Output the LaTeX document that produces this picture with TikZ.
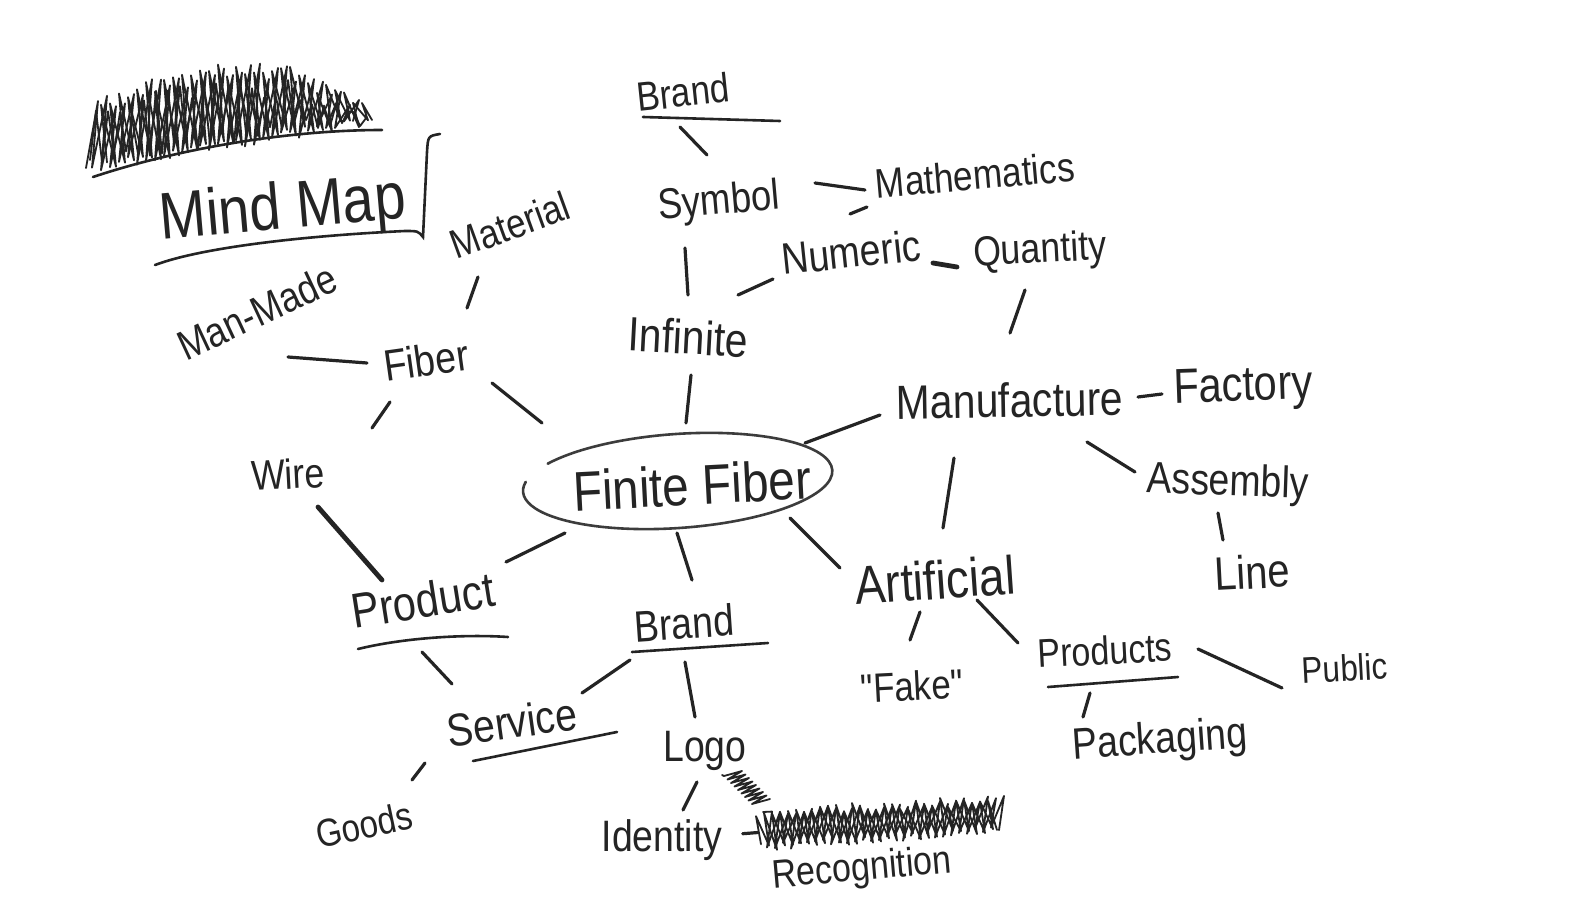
\documentclass[tikz,border=0pt]{standalone}
\usepackage{fontspec}
\setmainfont{Liberation Sans}[FakeStretch=0.85]
\newfontfamily\quotefont{Liberation Sans}[FakeStretch=0.85]
\usetikzlibrary{calc}
\definecolor{ink}{HTML}{242424}
\definecolor{inkgray}{HTML}{3C3C3C}
\definecolor{board}{HTML}{FFFFFF}

\tikzset{
  word/.style={font=\fontsize{#1}{#1}\selectfont, text=ink, inner sep=1pt},
  word/.default=22,
  link/.style={draw=ink, line width=1.6pt, line cap=round},
  heavy/.style={link, line width=2.4pt},
  underline/.style={draw=ink, line width=1.3pt, line cap=round},
  ring/.style={draw=inkgray, line width=1.3pt, line cap=round},
  scrawl/.style={draw=ink, line width=0.9pt, line join=round, line cap=round},
}

\begin{document}
\begin{tikzpicture}[x=0.5pt, y=-0.5pt,
  declare function={
    ttop(\x)=(\x<260)*(72+40*((\x-260)/175)^2)+(\x>=260)*(72+46*((\x-260)/112)^2);
    tbot(\x)=168-0.167*(\x-88);
    ktop(\x)=812-(\x-763)*12/234;
    kbot(\x)=847-(\x-763)*17/234;
  }]
\pgfmathsetseed{42}
\fill[board] (0,0) rectangle (1585,920);
\useasboundingbox (0,0) rectangle (1585,920);

% crossed-out title and the title box
\draw[scrawl] (86,168)
  \foreach \i in {0,...,29}{
    -- ({98+9*\i}, {ttop(98+9*\i)+9*rand})
    -- ({92+9*\i}, {tbot(92+9*\i)+5*rand})
  };
\draw[scrawl] (372,120)
  \foreach \i in {0,...,29}{
    -- ({362-9*\i}, {ttop(362-9*\i)+10*rand})
    -- ({368-9*\i}, {tbot(368-9*\i)+5*rand})
  };
\draw[scrawl] (90,160)
  \foreach \i in {0,...,22}{
    -- ({96+12*\i}, {ttop(96+12*\i)+14+12*rand})
    -- ({102+12*\i}, {tbot(102+12*\i)-6+6*rand})
  };
\draw[underline] (93,177) .. controls (180,148) and (290,130) .. (382,130);

\node[word=33, rotate=5] (mind) at (283,212) {Mind Map};
\draw[underline] (440,134) .. controls (428,136) .. (427,152) -- (423,237)
  .. controls (418,231) .. (405,231) .. controls (300,236) and (200,248) .. (155,265);

% words
\node[word=28, rotate=3] (finite) at (692,485) {Finite Fiber};
\draw[ring, rotate around={4:(finite)}] ($(finite)+(-14,-5)$) ++(214:155 and 47)
  arc[start angle=214, end angle=552, x radius=155, y radius=47];

\node[word=21, rotate=25] (manmade) at (257,312) {Man-Made};
\node[word=20.5, rotate=20] (material) at (510,225) {Material};
\node[word=22, rotate=8] (fiber) at (426,360) {Fiber};
\node[word=21, rotate=3] (wire) at (288,474) {Wire};
\node[word=24.5, rotate=9] (product) at (423,600) {Product};
\node[word=23, rotate=8] (service) at (512,722) {Service};
\node[word=19.5, rotate=12] (goods) at (364,825) {Goods};
\node[word=22, rotate=4] (brandlow) at (684,623) {Brand};
\node[word=22] (logo) at (705,751) {Logo};
\node[word=22] (identity) at (662,840) {Identity};
\coordinate (struck) at (880,823);
\node[word=20, rotate=5] (recognition) at (862,870) {Recognition};
\node[word=21.5, rotate=5] (symbol) at (719,203) {Symbol};
\node[word=20.5, rotate=6] (brandtop) at (683,92) {Brand};
\node[word=20.7, rotate=5] (maths) at (975,175) {Mathematics};
\node[word=22, rotate=6] (numeric) at (851,252) {Numeric};
\node[word=21, rotate=3] (quantity) at (1040,252) {Quantity};
\node[word=24, rotate=-3] (infinite) at (688,337) {Infinite};
\node[word=24, rotate=1] (manuf) at (1010,400) {Manufacture};
\node[word=24.5, rotate=2] (factory) at (1243,389) {Factory};
\node[word=22, rotate=-2] (assembly) at (1228,484) {Assembly};
\node[word=23.5, rotate=3] (assyline) at (1252,572) {Line};
\node[word=27, rotate=4] (artificial) at (935,580) {Artificial};
\node[word=20.5, rotate=3] (fake) at (912,686) {\quotefont "Fake"};
\node[word=20, rotate=3] (products) at (1105,650) {Products};
\node[word=18.5, rotate=3] (public) at (1345,668) {Public};
\node[word=22, rotate=4] (packaging) at (1160,742) {Packaging};

% underlined words
\draw[underline] ($(brandtop)+(-40,25)$) -- ($(brandtop)+(97,29)$);
\draw[underline] ($(product)+(-65,49)$) .. controls ($(product)+(-20,38)$) and ($(product)+(40,34)$) .. ($(product)+(85,37)$);
\draw[underline] ($(service)+(-39,39)$) -- ($(service)+(105,10)$);
\draw[underline] ($(brandlow)+(-52,29)$) -- ($(brandlow)+(84,20)$);
\draw[underline] ($(products)+(-57,37)$) -- ($(products)+(73,27)$);

% connectors
\draw[link] ($(material)+(-32,52)$) -- ($(fiber)+(41,-52)$);
\draw[link] ($(fiber)+(-59,3)$) -- ($(manmade)+(31,45)$);
\draw[link] ($(fiber)+(-36,42)$) -- ($(wire)+(84,-46)$);
\draw[link] ($(fiber)+(66,23)$) -- ($(finite)+(-150,-62)$);
\draw[heavy] ($(wire)+(30,33)$) -- ($(product)+(-41,-20)$);
\draw[link] ($(finite)+(-127,48)$) -- ($(product)+(83,-38)$);
\draw[link] ($(product)+(-1,52)$) -- ($(service)+(-60,-38)$);
\draw[link] ($(service)+(70,-29)$) -- ($(brandlow)+(-54,37)$);
\draw[link] ($(service)+(-87,41)$) -- ($(goods)+(48,-45)$);
\draw[link] ($(finite)+(-15,48)$) -- ($(brandlow)+(8,-43)$);
\draw[link] ($(brandlow)+(1,39)$) -- ($(logo)+(-10,-34)$);
\draw[link] ($(logo)+(-8,31)$) -- ($(identity)+(21,-30)$);
\draw[link] ($(identity)!0.37!(struck)$) -- ($(identity)!0.44!(struck)$);
\draw[link] ($(finite)+(-6,-62)$) -- ($(infinite)+(3,38)$);
\draw[link] ($(infinite)+(0,-42)$) -- ($(symbol)+(-34,45)$);
\draw[link] ($(symbol)+(-12,-48)$) -- ($(brandtop)+(-3,35)$);
\draw[link] ($(symbol)+(96,-20)$) -- ($(maths)+(-110,15)$);
\draw[link] ($(infinite)+(50,-42)$) -- ($(numeric)+(-78,27)$);
\draw[link] ($(numeric)+(-1,-38)$) -- ($(maths)+(-108,32)$);
\draw[heavy] ($(numeric)+(82,11)$) -- ($(quantity)+(-83,15)$);
\draw[link] ($(quantity)+(-15,38)$) -- ($(manuf)+(0,-67)$);
\draw[link] ($(manuf)+(128,-3)$) -- ($(factory)+(-81,5)$);
\draw[link] ($(manuf)+(-130,15)$) -- ($(finite)+(113,-42)$);
\draw[link] ($(manuf)+(77,42)$) -- ($(assembly)+(-93,-12)$);
\draw[link] ($(assembly)+(-10,29)$) -- ($(assyline)+(-29,-32)$);
\draw[link] ($(manuf)+(-56,58)$) -- ($(artificial)+(8,-52)$);
\draw[link] ($(finite)+(98,33)$) -- ($(artificial)+(-95,-12)$);
\draw[link] ($(artificial)+(-15,32)$) -- ($(fake)+(-2,-46)$);
\draw[link] ($(artificial)+(42,20)$) -- ($(products)+(-87,-7)$);
\draw[link] ($(products)+(93,-1)$) -- ($(public)+(-63,20)$);
\draw[link] ($(products)+(-15,43)$) -- ($(packaging)+(-77,-25)$);

% scribbles
\draw[scrawl] (722,775)
  \foreach \i in {0,...,8}{
    -- ({724+3.5*\i}, {776+3.5*\i})
    -- ({742+3.5*\i}, {771+3.5*\i})
  };
\draw[scrawl] (763,812)
  \foreach \i in {0,...,29}{
    -- ({772+8*\i}, {ktop(772+8*\i)+4*rand})
    -- ({767+8*\i}, {kbot(767+8*\i)+4*rand})
  };
\draw[scrawl] (997,830)
  \foreach \i in {0,...,29}{
    -- ({988-8*\i}, {ktop(988-8*\i)+5*rand})
    -- ({993-8*\i}, {kbot(993-8*\i)+4*rand})
  };

\end{tikzpicture}
\end{document}
